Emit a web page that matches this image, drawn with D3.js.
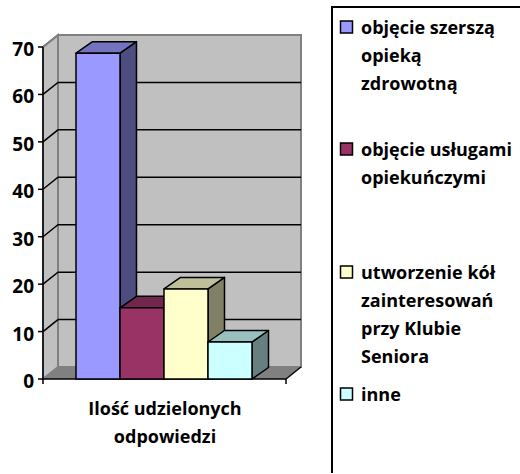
<!DOCTYPE html>
<html>
<head>
<meta charset="utf-8">
<script src="https://cdnjs.cloudflare.com/ajax/libs/d3/7.8.5/d3.min.js"></script>
<style>
html, body { margin: 0; padding: 0; background: #fff; }
svg { display: block; }
text { font-family: "Open Sans", "Noto Sans", sans-serif; font-weight: 700; fill: #000; }
</style>
</head>
<body>
<div class="chart"></div>
<script>
var categories = ["Ilość udzielonych", "odpowiedzi"];
var series = ["objęcie szerszą opieką zdrowotną", "objęcie usługami opiekuńczymi", "utworzenie kół zainteresowań przy Klubie Seniora", "inne"];
var values = [68.7, 15, 19, 7.8];
var colors = ["#9999ff", "#993366", "#ffffcc", "#ccffff"];
var ticks = [0, 10, 20, 30, 40, 50, 60, 70];

// legend lines, wrapped the way the original wraps them
var legendLines = [
    ["objęcie szerszą", "opieką", "zdrowotną"],
    ["objęcie usługami", "opiekuńczymi"],
    ["utworzenie kół", "zainteresowań", "przy Klubie", "Seniora"],
    ["inne"]
];
var legendTops = [27, 149, 272, 394];

var width = 520, height = 474;
var dx = 15, dy = -12;   // 3d depth of the walls
var barDx = 16.5, barDy = -11.5;   // 3d depth of the bars

var svg = d3.select(".chart").append("svg")
    .attr("width", width)
    .attr("height", height);

var y = d3.scaleLinear().domain([0, 70]).range([379, 47]);
var x = d3.scaleBand().domain(d3.range(values.length)).range([76, 252]);
var left = 43, right = 286;
var line = d3.line();

// walls and floor
svg.append("path")
    .attr("d", line([[left + dx, y(70) + dy], [right + dx, y(70) + dy], [right + dx, y(0) + dy], [left + dx, y(0) + dy]]) + "Z")
    .attr("fill", "#c0c0c0")
    .attr("stroke", "#808080")
    .attr("stroke-width", 2);
svg.append("path")
    .attr("d", line([[left, y(70)], [left + dx, y(70) + dy], [left + dx, y(0) + dy], [left, y(0)]]) + "Z")
    .attr("fill", "#c0c0c0")
    .attr("stroke", "#808080")
    .attr("stroke-width", 2);
svg.append("path")
    .attr("d", line([[left, y(0)], [left + dx, y(0) + dy], [right + dx, y(0) + dy], [right, y(0)]]) + "Z")
    .attr("fill", "#808080");

// gridlines run along the side wall and the back wall
svg.selectAll("path.grid")
    .data(ticks.filter(function(d) { return d > 0 && d < 70; }))
    .enter().append("path")
    .attr("class", "grid")
    .attr("d", function(d) {
        return line([[left, y(d)], [left + dx, y(d) + dy], [right + dx, y(d) + dy]]);
    })
    .attr("fill", "none")
    .attr("stroke", "#000")
    .attr("stroke-width", 1.5);

svg.append("path")
    .attr("d", line([[left, y(70)], [left + dx, y(70) + dy]]))
    .attr("stroke", "#808080")
    .attr("stroke-width", 2);

// axes
svg.append("path")
    .attr("d", line([[left, y(70)], [left, y(0) + 5]]))
    .attr("stroke", "#000").attr("stroke-width", 1.5);
svg.append("path")
    .attr("d", line([[left, y(0)], [right, y(0)], [right, y(0) + 5]]))
    .attr("fill", "none").attr("stroke", "#000").attr("stroke-width", 1.5);
svg.append("path")
    .attr("d", line([[right, y(0)], [right + dx, y(0) + dy]]))
    .attr("stroke", "#000").attr("stroke-width", 1.5);

svg.selectAll("line.tick")
    .data(ticks)
    .enter().append("line")
    .attr("class", "tick")
    .attr("x1", left - 5).attr("x2", left)
    .attr("y1", function(d) { return y(d); })
    .attr("y2", function(d) { return y(d); })
    .attr("stroke", "#000").attr("stroke-width", 1.5);

svg.selectAll("text.ticklabel")
    .data(ticks)
    .enter().append("text")
    .attr("class", "ticklabel")
    .attr("x", 34)
    .attr("y", function(d) { return y(d) + 9; })
    .attr("text-anchor", "end")
    .style("font-size", "19px")
    .text(function(d) { return d; });

// bars, drawn left to right so neighbours cover the side faces
var bars = svg.selectAll("g.bar")
    .data(values)
    .enter().append("g")
    .attr("class", "bar")
    .attr("stroke", "#000")
    .attr("stroke-width", 1.5)
    .attr("stroke-linejoin", "round");

bars.append("path")
    .attr("d", function(d, i) {
        var r = x(i) + x.bandwidth();
        return line([[r, y(d)], [r + barDx, y(d) + barDy], [r + barDx, y(0) + barDy], [r, y(0)]]) + "Z";
    })
    .style("fill", function(d, i) {
        var c = d3.rgb(colors[i]);
        return d3.rgb(c.r * .5, c.g * .5, c.b * .5);
    });
bars.append("path")
    .attr("d", function(d, i) {
        var l = x(i), r = l + x.bandwidth();
        return line([[l, y(d)], [l + barDx, y(d) + barDy], [r + barDx, y(d) + barDy], [r, y(d)]]) + "Z";
    })
    .style("fill", function(d, i) {
        var c = d3.rgb(colors[i]);
        return d3.rgb(c.r * .75, c.g * .75, c.b * .75);
    });
bars.append("rect")
    .attr("x", function(d, i) { return x(i); })
    .attr("y", function(d) { return y(d); })
    .attr("width", x.bandwidth())
    .attr("height", function(d) { return y(0) - y(d); })
    .attr("fill", function(d, i) { return colors[i]; });

// category label
svg.selectAll("text.category")
    .data(categories)
    .enter().append("text")
    .attr("class", "category")
    .attr("x", 165)
    .attr("y", function(d, i) { return 415 + i * 28; })
    .attr("text-anchor", "middle")
    .style("font-size", "18px")
    .text(function(d) { return d; });

// legend box runs off the right and bottom of the picture
svg.append("path")
    .attr("d", line([[332, 473], [332, 7], [520, 7]]))
    .attr("fill", "none")
    .attr("stroke", "#000")
    .attr("stroke-width", 2);

var legend = svg.selectAll("g.legend")
    .data(series)
    .enter().append("g")
    .attr("class", "legend")
    .attr("transform", function(d, i) { return "translate(0," + legendTops[i] + ")"; });

legend.append("rect")
    .attr("x", 340.5).attr("y", -6)
    .attr("width", 12).attr("height", 12)
    .attr("fill", function(d, i) { return colors[i]; })
    .attr("stroke", "#000").attr("stroke-width", 1.5);

legend.selectAll("text")
    .data(function(d, i) { return legendLines[i]; })
    .enter().append("text")
    .attr("x", 361)
    .attr("y", function(d, i) { return 7 + i * 28; })
    .style("font-size", "18px")
    .text(function(d) { return d; });
</script>
</body>
</html>
